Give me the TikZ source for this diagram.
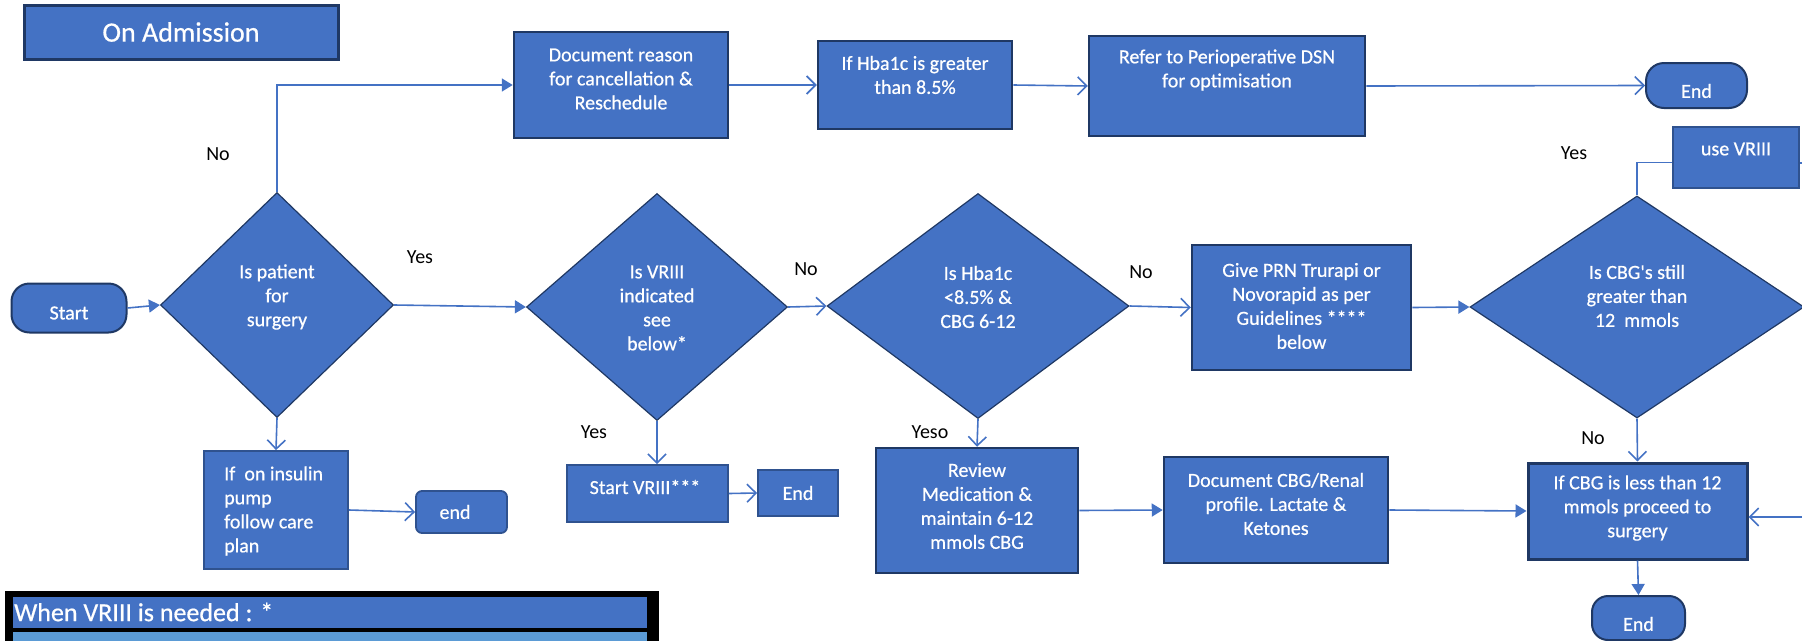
\documentclass[tikz,border=0pt]{standalone}
\usepackage{fontspec}
\setmainfont{Carlito}
\newfontface\wfont{Carlito}[FakeBold=0.6]
\usetikzlibrary{arrows.meta,shapes.geometric,calc}
\definecolor{ofblue}{HTML}{4472C4}
\definecolor{navy}{HTML}{1F3864}
\definecolor{midnavy}{HTML}{2F528F}
\definecolor{lightrow}{HTML}{5B9BD5}
\tikzset{
  every node/.style={font=\fontsize{20}{24}\selectfont},
  box/.style={rectangle, draw=navy, line width=2.5pt, fill=ofblue, inner sep=0pt},
  thinbox/.style={rectangle, draw=midnavy, line width=1.8pt, fill=ofblue, inner sep=0pt},
  dia/.style={diamond, draw=navy, line width=1.2pt, fill=ofblue, inner sep=0pt},
  txt/.style={text=white, align=center, inner sep=0pt, font=\wfont\fontsize{20}{24}\selectfont},
  lbl/.style={text=black, inner sep=0pt},
  conn/.style={draw=ofblue, line width=1.6pt},
  fa/.style={conn, -{Triangle[length=11pt,width=13pt]}},
  oa/.style={conn, -{Straight Barb[length=9pt,width=18pt]}},
}
\begin{document}
\begin{tikzpicture}[x=1pt,y=-1pt]
\useasboundingbox (0,0) rectangle (1802,640);
\clip (0,0) rectangle (1802,640);

% title
\node[box, line width=3pt, minimum width=314pt, minimum height=54pt] (adm) at (181,32) {};
\node[txt, font=\wfont\fontsize{28}{32}\selectfont] (admt) at (181,32) {On Admission};

% start
\node[box, line width=2pt, rounded corners=18pt, minimum width=115pt, minimum height=49pt] (start) at (69,308) {};
\node[txt] (startt) at (69,313) {Start};

% diamonds
\node[dia, minimum width=233pt, minimum height=225pt] (d1) at (277,305) {};
\node[txt] (d1t) at (277,297) {Is patient\\for\\surgery};
\node[dia, minimum width=261pt, minimum height=227pt] (d2) at (657,307) {};
\node[txt] (d2t) at (657,308) {Is VRIII\\indicated\\see\\below*};
\node[dia, minimum width=302pt, minimum height=225pt] (d3) at (978,306) {};
\node[txt] (d3t) at (978,297) {Is Hba1c\\<8.5\% \&\\CBG 6-12};
\node[dia, minimum width=334pt, minimum height=222pt] (d4) at (1637,307) {};
\node[txt] (d4t) at (1637,296) {Is CBG's still\\greater than\\12~~mmols};

% top row
\node[box, minimum width=214pt, minimum height=106pt] (doc) at (621,85) {};
\node[txt] (doct) at (621,79) {Document reason\\for cancellation \&\\Reschedule};
\node[box, minimum width=194pt, minimum height=88pt] (hba) at (915,85) {};
\node[txt] (hbat) at (915,75) {If Hba1c is greater\\than 8.5\%};
\node[box, minimum width=276pt, minimum height=100pt] (refer) at (1227,86) {};
\node[txt] (refert) at (1227,70) {Refer to Perioperative DSN\\for optimisation};
\node[box, line width=2pt, rounded corners=18pt, minimum width=101pt, minimum height=45pt] (endT) at (1696.5,85.5) {};
\node[txt] (endTt) at (1696.5,91) {End};

% lower left
\node[thinbox, minimum width=144pt, minimum height=118pt] (ins) at (276,510) {};
\node[txt, align=left, anchor=west] (inst) at (224,511) {If~ on insulin\\pump\\follow care\\plan};
\node[thinbox, rounded corners=6pt, minimum width=91pt, minimum height=42pt] (endA) at (461.5,512) {};
\node[txt] (endAt) at (455,512) {end};

\node[thinbox, minimum width=161pt, minimum height=57pt] (svr) at (647.5,493.5) {};
\node[txt] (svrt) at (645,487) {Start VRIII***};
\node[thinbox, minimum width=80pt, minimum height=46pt] (endB) at (798,493) {};
\node[txt] (endBt) at (798,493) {End};

\node[box, minimum width=202pt, minimum height=125pt] (rev) at (977,510.5) {};
\node[txt] (revt) at (977,506) {Review\\Medication \&\\maintain 6-12\\mmols CBG};
\node[box, minimum width=219pt, minimum height=125pt] (prn) at (1301.5,307.5) {};
\node[txt] (prnt) at (1301.5,306) {Give PRN Trurapi or\\Novorapid as per\\Guidelines ****\\below};
\node[box, minimum width=224pt, minimum height=106pt] (dcbg) at (1276,510) {};
\node[txt] (dcbgt) at (1276,504) {Document CBG/Renal\\profile. Lactate \&\\Ketones};
\node[box, line width=3pt, minimum width=219pt, minimum height=96pt] (ifcbg) at (1637.5,511) {};
\node[txt] (ifcbgt) at (1637.5,508) {If CBG is less than 12\\mmols proceed to\\surgery};
\node[box, line width=2pt, rounded corners=16pt, minimum width=93pt, minimum height=44pt] (endC) at (1638.5,618) {};
\node[txt] (endCt) at (1638.5,624) {End};
\node[thinbox, minimum width=126pt, minimum height=61pt] (uvr) at (1736,157.5) {};
\node[txt] (uvrt) at (1736,149) {use VRIII};

% labels
\node[lbl] (l1) at (218,154) {No};
\node[lbl] (l2) at (420,257) {Yes};
\node[lbl] (l3) at (806,269) {No};
\node[lbl] (l4) at (1141,272) {No};
\node[lbl] (l5) at (594,432) {Yes};
\node[lbl] (l6) at (930,432) {Yeso};
\node[lbl] (l7) at (1574,153) {Yes};
\node[lbl] (l8) at (1593,438) {No};

% table
\node[rectangle, draw=black, line width=4pt, fill=black, minimum width=650pt, minimum height=60pt, anchor=north west, inner sep=0pt] (tab) at (4.5,591) {};
\node[rectangle, fill=ofblue, minimum width=634pt, minimum height=31pt, anchor=north west, inner sep=0pt] (tabh) at (12.5,597) {};
\node[rectangle, fill=lightrow, minimum width=634pt, minimum height=20pt, anchor=north west, inner sep=0pt] (tabr) at (12.5,632) {};
\node[txt, anchor=west, font=\wfont\fontsize{26}{30}\selectfont] (tabt) at (14,612) {When VRIII is needed : *};

% connectors
\coordinate (uvrin) at ($(uvr.west)+(0,5)$);
\coordinate (offr) at (1830,163);
\coordinate (ifin) at ($(ifcbg.east)+(0,6)$);
\draw[fa] (start.east) -- (d1.west);
\draw[fa] (d1.north) |- (doc.west);
\draw[oa] (d1.south) -- (ins.north);
\draw[oa] (ins.east) -- (endA.west);
\draw[fa] (d1.east) -- (d2.west);
\draw[oa] (doc.east) -- (hba.west);
\draw[oa] (hba.east) -- (refer.west);
\draw[oa] (refer.east) -- (endT.west);
\draw[oa] (d2.south) -- (d2.south |- svr.north);
\draw[oa] (svr.east) -- (endB.west);
\draw[oa] (d2.east) -- (d3.west);
\draw[oa] (d3.south) -- (rev.north);
\draw[oa] (d3.east) -- (prn.west);
\draw[fa] (prn.east) -- (d4.west);
\draw[conn] (d4.north) |- (uvrin);
\draw[oa] (uvr.east |- offr) -- (offr) |- (ifin);
\draw[oa] (d4.south) -- (ifcbg.north);
\draw[fa] (rev.east) -- (dcbg.west);
\draw[fa] (dcbg.east) -- (ifcbg.west);
\draw[fa] (ifcbg.south) -- (endC.north);
\end{tikzpicture}
\end{document}
